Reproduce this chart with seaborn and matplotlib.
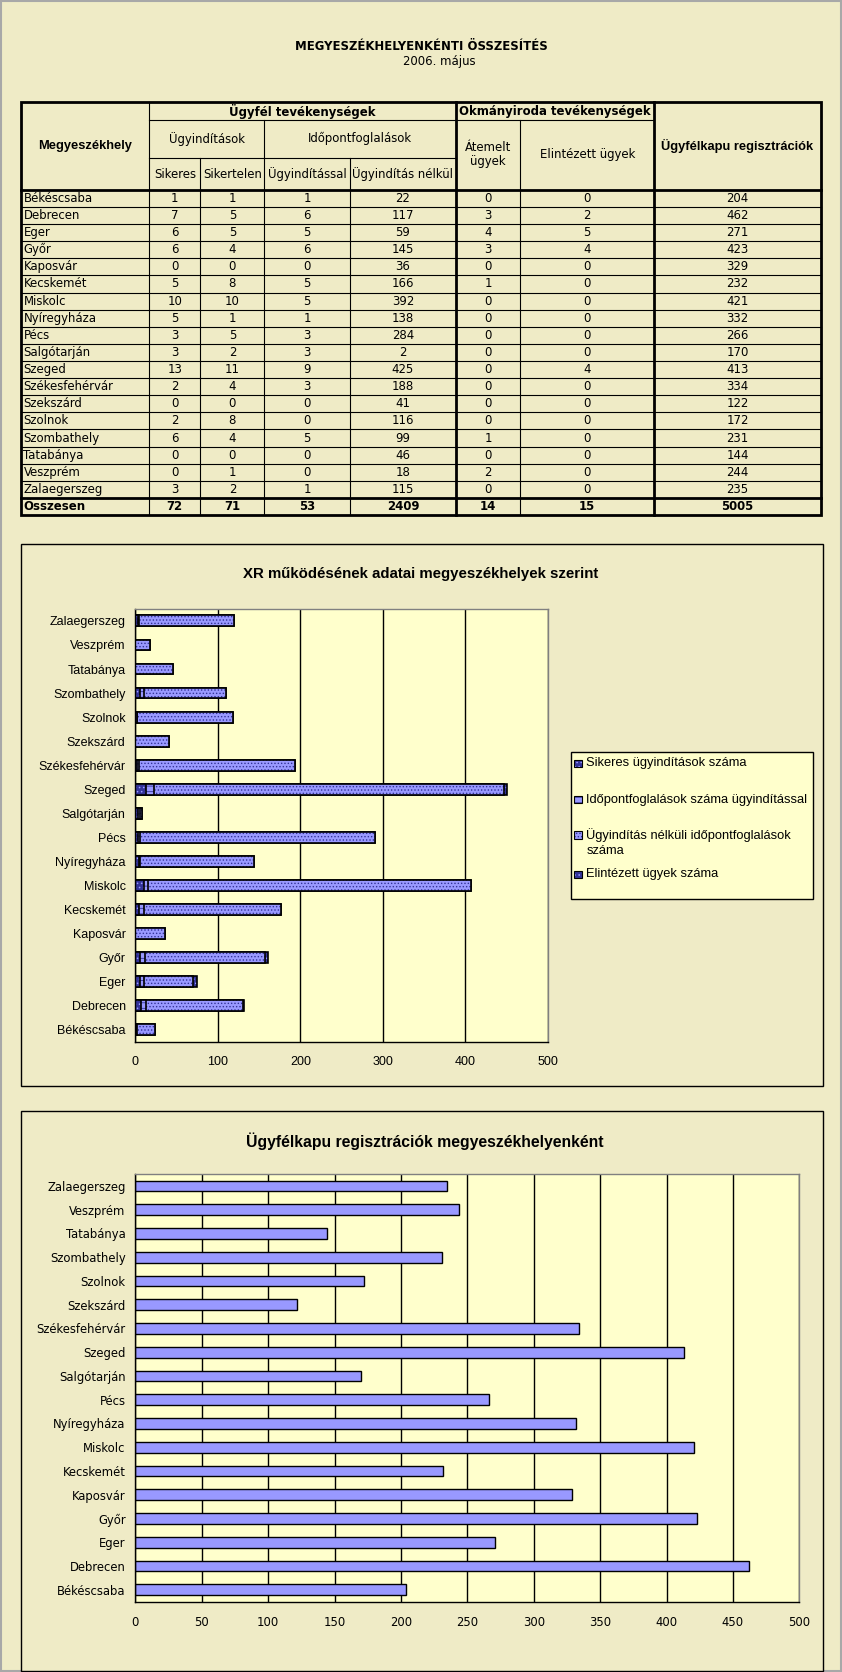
import numpy as np
import pandas as pd
import matplotlib
matplotlib.use("Agg")
import matplotlib.pyplot as plt
import matplotlib.colors as mcolors
import seaborn as sns
from matplotlib.patches import Rectangle
from matplotlib import font_manager as fm

# ---------------- data ----------------
cities = ["Békéscsaba", "Debrecen", "Eger", "Győr", "Kaposvár", "Kecskemét", "Miskolc",
          "Nyíregyháza", "Pécs", "Salgótarján", "Szeged", "Székesfehérvár", "Szekszárd",
          "Szolnok", "Szombathely", "Tatabánya", "Veszprém", "Zalaegerszeg"]
sikeres = [1, 7, 6, 6, 0, 5, 10, 5, 3, 3, 13, 2, 0, 2, 6, 0, 0, 3]
sikertelen = [1, 5, 5, 4, 0, 8, 10, 1, 5, 2, 11, 4, 0, 8, 4, 0, 1, 2]
ugyinditassal = [1, 6, 5, 6, 0, 5, 5, 1, 3, 3, 9, 3, 0, 0, 5, 0, 0, 1]
nelkul = [22, 117, 59, 145, 36, 166, 392, 138, 284, 2, 425, 188, 41, 116, 99, 46, 18, 115]
atemelt = [0, 3, 4, 3, 0, 1, 0, 0, 0, 0, 0, 0, 0, 0, 1, 0, 2, 0]
elintezett = [0, 2, 5, 4, 0, 0, 0, 0, 0, 0, 4, 0, 0, 0, 0, 0, 0, 0]
ugyfelkapu = [204, 462, 271, 423, 329, 232, 421, 332, 266, 170, 413, 334, 122, 172, 231, 144, 244, 235]

chart1_ticks = [0, 100, 200, 300, 400, 500]
chart2_ticks = [0, 50, 100, 150, 200, 250, 300, 350, 400, 450, 500]
legend_labels = ["Sikeres ügyindítások száma",
                 "Időpontfoglalások száma ügyindítással",
                 "Ügyindítás nélküli időpontfoglalások",
                 "száma",
                 "Elintézett ügyek száma"]

# ---------------- style ----------------
sns.set_style("white")
REG = ["Liberation Sans", "DejaVu Sans"]
plt.rcParams["font.family"] = REG
for k in ["text.color", "axes.labelcolor", "xtick.color", "ytick.color"]:
    plt.rcParams[k] = "black"
plt.rcParams["hatch.linewidth"] = 0.6

# look for a narrow / condensed face for the table (Arial Narrow look)
NARROW = None
scale_n = 1.0
for f in fm.fontManager.ttflist:
    fn = f.fname.lower()
    if ("narrow" in fn or "condensed" in fn) and "semi" not in fn and f.weight in (400, "normal", "regular") \
            and f.style == "normal":
        NARROW = dict(family=[f.name, "DejaVu Sans"], stretch=f.stretch)
        break
if NARROW is None:
    NARROW = dict(family=REG)
    scale_n = 0.86

BG = "#EFEBC6"
PLOT_BG = "#FFFFCC"
LIGHT = "#9999FF"
DARK = "#333399"


def set_hatch(p, hatch, color):
    p.set_hatch(hatch)
    if hasattr(p, "set_hatchcolor"):
        p.set_hatchcolor(color)
    else:
        p._hatch_color = mcolors.to_rgba(color)


W, H = 790.0, 1568.0
fig = plt.figure(figsize=(8.42, 16.72), dpi=100)
fig.patch.set_facecolor(BG)
ov = fig.add_axes([0, 0, 1, 1])
ov.set_xlim(0, W)
ov.set_ylim(H, 0)
ov.axis("off")
ov.set_zorder(0)

# page frame
ov.add_patch(Rectangle((0.5, 0.5), W - 1, H - 1, fill=False, ec="#A8A8A8", lw=1.5))

fs = 9.4 * scale_n
# ---------------- title ----------------
ov.text(395, 44, "MEGYESZÉKHELYENKÉNTI ÖSSZESÍTÉS", ha="center", va="center",
        fontsize=fs, fontweight="bold", **NARROW)
ov.text(412, 58, "2006. május", ha="center", va="center", fontsize=fs, **NARROW)

# ---------------- table ----------------
xs = [20, 140, 188, 248, 328, 428, 488, 614, 770]
y_top, y1, y2, y_head = 96, 113, 148, 178
row_h = (483 - 178) / 19.0
y_bot = y_head + 19 * row_h
thin, thick = 0.8, 2.0


def hline(y, x0, x1, lw=thin):
    ov.plot([x0, x1], [y, y], color="black", lw=lw, solid_capstyle="projecting")


def vline(x, y0, y1_, lw=thin):
    ov.plot([x, x], [y0, y1_], color="black", lw=lw, solid_capstyle="projecting")


hline(y1, 140, 614)
hline(y2, 140, 428)
vline(188, y2, y_bot)
vline(248, y1, y_bot)
vline(328, y2, y_bot)
vline(488, y1, y_bot)
vline(140, y_top, y_bot)
for i in range(1, 19):
    hline(y_head + i * row_h, 20, 770)
vline(428, y_top, y_bot, thick)
vline(614, y_top, y_bot, thick)
hline(y_head, 20, 770, thick)
hline(y_head + 18 * row_h, 20, 770, thick)
ov.add_patch(Rectangle((20, y_top), 750, y_bot - y_top, fill=False, ec="black", lw=thick))

hb = dict(ha="center", va="center", fontsize=fs, fontweight="bold", **NARROW)
hw = dict(ha="center", va="center", fontsize=9.3, fontweight="bold", family=REG)
hn = dict(ha="center", va="center", fontsize=fs, **NARROW)
ov.text(80, 137, "Megyeszékhely", **hw)
ov.text(284, 104.5, "Ügyfél tevékenységek", **hb)
ov.text(521, 104.5, "Okmányiroda tevékenységek", **hb)
ov.text(692, 137, "Ügyfélkapu regisztrációk", **hw)
ov.text(194, 130, "Ügyindítások", **hn)
ov.text(338, 130, "Időpontfoglalások", **hn)
ov.text(458, 145, "Átemelt\nügyek", linespacing=1.1, **hn)
ov.text(551, 145, "Elintézett ügyek", **hn)
for cx, t in [(164, "Sikeres"), (218, "Sikertelen"), (288, "Ügyindítással"), (378, "Ügyindítás nélkül")]:
    ov.text(cx, 163.5, t, **hn)

cols = [sikeres, sikertelen, ugyinditassal, nelkul, atemelt, elintezett, ugyfelkapu]
centers = [(xs[i] + xs[i + 1]) / 2 for i in range(1, 8)]
for r, city in enumerate(cities):
    yc = y_head + (r + 0.5) * row_h
    ov.text(22, yc, city, ha="left", va="center", fontsize=fs, **NARROW)
    for c, col in enumerate(cols):
        ov.text(centers[c], yc, str(col[r]), ha="center", va="center", fontsize=fs, **NARROW)
yc = y_head + 18.5 * row_h
ov.text(22, yc, "Összesen", ha="left", va="center", fontsize=fs, fontweight="bold", **NARROW)
for c, col in enumerate(cols):
    ov.text(centers[c], yc, str(sum(col)), ha="center", va="center", fontsize=fs,
            fontweight="bold", **NARROW)

# ---------------- chart boxes ----------------
ov.add_patch(Rectangle((20, 510), 752, 508, fill=True, fc=BG, ec="black", lw=1))
ov.add_patch(Rectangle((20, 1042), 752, 525, fill=True, fc=BG, ec="black", lw=1))
ov.text(395, 538, "XR működésének adatai megyeszékhelyek szerint", ha="center", va="center",
        fontsize=10.8, fontweight="bold")
ov.text(399, 1070, "Ügyfélkapu regisztrációk megyeszékhelyenként", ha="center", va="center",
        fontsize=11.3, fontweight="bold")

order = cities[::-1]
df = pd.DataFrame({"city": cities,
                   "c1": np.array(sikeres),
                   "c2": np.array(sikeres) + np.array(ugyinditassal),
                   "c3": np.array(sikeres) + np.array(ugyinditassal) + np.array(nelkul),
                   "c4": np.array(sikeres) + np.array(ugyinditassal) + np.array(nelkul) + np.array(elintezett),
                   "kapu": ugyfelkapu})


def style_axis(ax, ticks, labfont):
    ax.set_facecolor(PLOT_BG)
    ax.set_xlim(0, 500)
    ax.set_ylim(len(cities) - 0.5, -0.5)
    ax.set_xticks(ticks)
    ax.set_xlabel("")
    ax.set_ylabel("")
    ax.grid(axis="x", color="black", lw=1)
    ax.grid(axis="y", visible=False)
    ax.set_axisbelow(True)
    for s in ["left", "bottom"]:
        ax.spines[s].set_color("black")
        ax.spines[s].set_linewidth(1)
    for s in ["top", "right"]:
        ax.spines[s].set_color("#808080")
        ax.spines[s].set_linewidth(1)
    ax.set_yticks(np.arange(-0.5, len(cities), 1.0), minor=True)
    ax.tick_params(axis="y", which="major", length=0, pad=7)
    ax.tick_params(axis="y", which="minor", length=4, width=1, color="black", direction="out")
    ax.tick_params(axis="x", which="major", length=4, width=1, color="black", direction="out", pad=6)
    for lab in ax.get_yticklabels() + ax.get_xticklabels():
        lab.set(**labfont)


# ---------------- chart 1 ----------------
ax1 = fig.add_axes([127 / W, 1 - 977 / H, (514 - 127) / W, (977 - 571) / H])
ax1.set_zorder(2)
# (column, face, hatch, hatch colour) drawn longest first so each shorter stack sits on top
layers = [("c4", DARK, "....", LIGHT),
          ("c3", LIGHT, ".....", DARK),
          ("c2", LIGHT, "---", DARK),
          ("c1", DARK, "....", LIGHT)]
for col, color, hatch, hcol in layers:
    sns.barplot(data=df, x=col, y="city", order=order, color=color, saturation=1, width=0.45,
                edgecolor="black", linewidth=1.2, errorbar=None, ax=ax1)
    for p in ax1.containers[-1]:
        set_hatch(p, hatch, hcol)
style_axis(ax1, chart1_ticks, dict(family=REG, fontsize=9))

# legend
ov.add_patch(Rectangle((536, 705), 227, 138, fc=PLOT_BG, ec="black", lw=1, zorder=3))
leg_y = [716, 750, 783, 798, 820]
leg_style = [(DARK, "....", LIGHT), (LIGHT, "---", DARK), (LIGHT, ".....", DARK), None,
             (DARK, "....", LIGHT)]
for st, yy, lab in zip(leg_style, leg_y, legend_labels):
    if st is not None:
        r = Rectangle((539, yy - 3.5), 7, 7, fc=st[0], ec="black", lw=0.8, zorder=4)
        ov.add_patch(r)
        set_hatch(r, st[1], st[2])
    ov.text(550, yy, lab, ha="left", va="center", fontsize=9.3, zorder=4)

# ---------------- chart 2 ----------------
ax2 = fig.add_axes([127 / W, 1 - 1502 / H, (750 - 127) / W, (1502 - 1101) / H])
ax2.set_zorder(2)
sns.barplot(data=df, x="kapu", y="city", order=order, color=LIGHT, saturation=1, width=0.45,
            edgecolor="black", linewidth=1, errorbar=None, ax=ax2)
style_axis(ax2, chart2_ticks, dict(fontsize=9.3, **NARROW))

fig.savefig("out.png", dpi=100, facecolor=BG)
